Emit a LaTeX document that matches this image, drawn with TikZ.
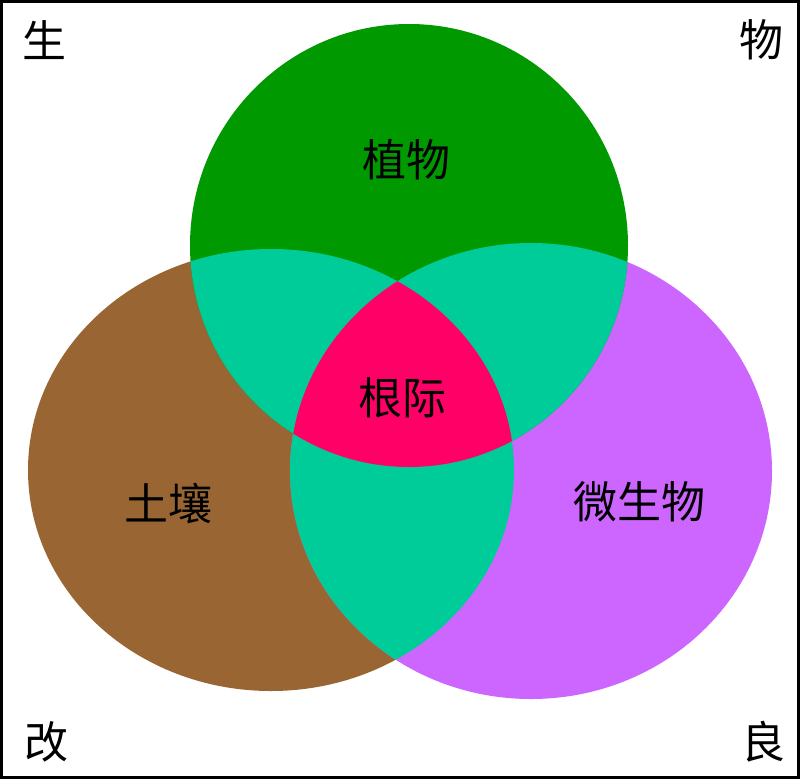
\documentclass[tikz,border=0pt]{standalone}
\usepackage{fontspec}
\newfontfamily\cjk{Noto Sans CJK SC}
\definecolor{plantgreen}{HTML}{009900}
\definecolor{soilbrown}{HTML}{996633}
\definecolor{microbe}{HTML}{CC66FF}
\definecolor{overlap}{HTML}{00CC99}
\definecolor{rhizo}{HTML}{FF0066}
\begin{document}
\begin{tikzpicture}[x=1pt,y=-1pt,
  lbl/.style={font=\cjk\fontsize{44}{44}\selectfont, inner sep=0pt, text=black}]
\useasboundingbox (0,0) rectangle (800,779);
\fill[white] (0,0) rectangle (800,779);
\def\ellG{(409,245.5) ellipse [x radius=219pt, y radius=221.5pt]}
\def\ellB{(271,470) ellipse [x radius=243pt, y radius=221pt]}
\def\ellM{(531,471) ellipse [x radius=241pt, y radius=228pt]}
\fill[soilbrown] \ellB;
\fill[microbe] \ellM;
\fill[plantgreen] \ellG;
\begin{scope}
  \clip \ellG;
  \fill[overlap] \ellB;
  \fill[overlap] \ellM;
\end{scope}
\begin{scope}
  \clip \ellB;
  \fill[overlap] \ellM;
\end{scope}
\begin{scope}
  \clip \ellG;
  \clip \ellB;
  \fill[rhizo] \ellM;
\end{scope}
\draw[line width=3pt] (1.5,1.5) rectangle (798.5,777.5);
\node[lbl] (plant) at (406,160) {植物};
\node[lbl] (rhizosphere) at (402,398) {根际};
\node[lbl] (soil) at (168,504) {土壤};
\node[lbl] (microbes) at (639,502) {微生物};
\node[lbl] (cTL) at (45,40) {生};
\node[lbl] (cTR) at (761,40) {物};
\node[lbl] (cBL) at (46,742) {改};
\node[lbl] (cBR) at (763,742) {良};
\end{tikzpicture}
\end{document}
